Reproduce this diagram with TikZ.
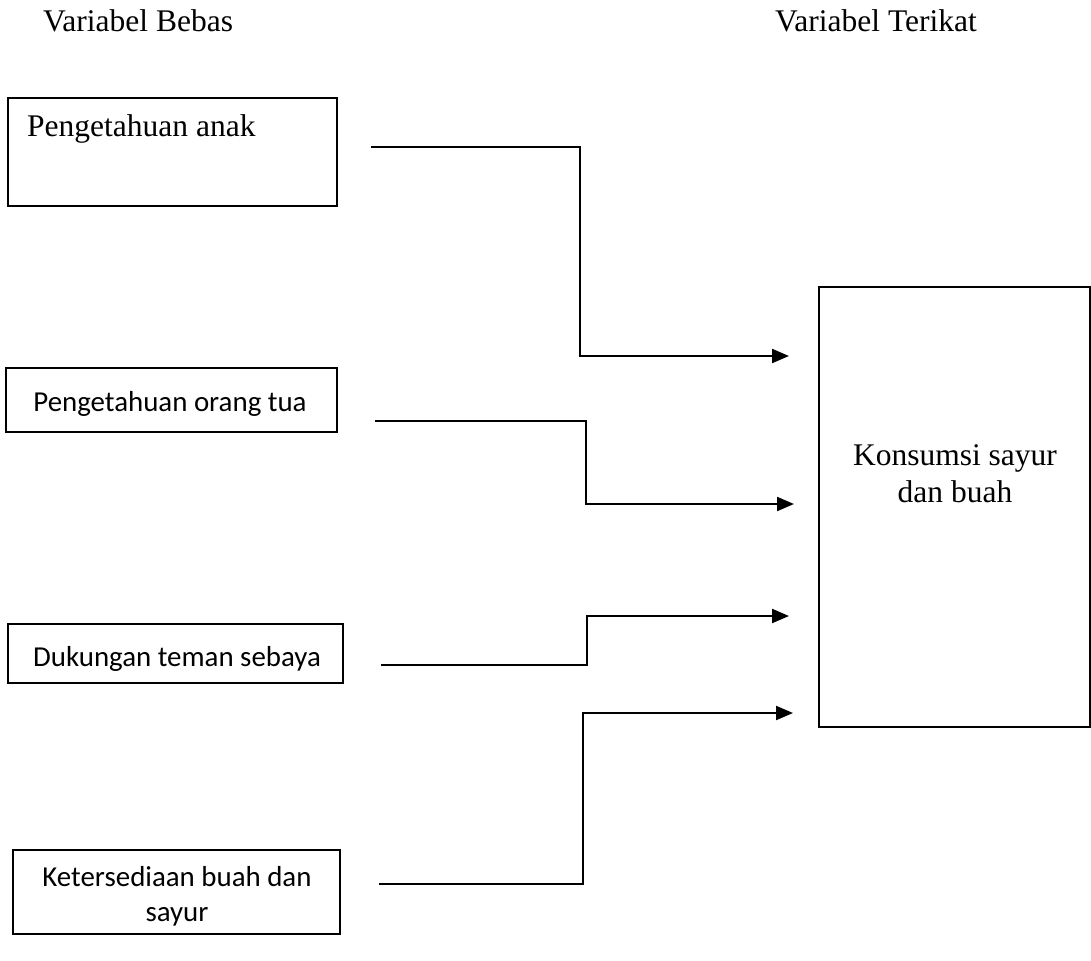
\documentclass[tikz,border=0pt]{standalone}
\usepackage{fontspec}
\setmainfont{Liberation Serif}
\newfontfamily\calibrifont{Carlito}
\usetikzlibrary{arrows.meta}
\tikzset{
  box/.style={draw=black, line width=2.4pt, rectangle, inner sep=0pt, outer sep=0pt, anchor=north west},
  serif/.style={font=\fontsize{31.5}{37}\selectfont, inner sep=0pt},
  sans/.style={font=\fontsize{28.9}{35}\calibrifont, inner sep=0pt},
  conn/.style={line width=2.2pt, -{Triangle[length=17pt,width=14pt]}},
}
\begin{document}
\begin{tikzpicture}[x=1pt,y=-1pt]
\useasboundingbox (0,0) rectangle (1091,960);
% headers
\node[serif, anchor=base west] (hb) at (43,32) {Variabel Bebas};
\node[serif, anchor=base west] (ht) at (775,32) {Variabel Terikat};
% left boxes
\node[box, minimum width=329pt, minimum height=108pt] (b1) at (8,98) {};
\node[serif, anchor=base west] (t1) at (27,137) {Pengetahuan anak};
\node[box, minimum width=331pt, minimum height=64pt] (b2) at (6,368) {};
\node[sans, anchor=base] (t2) at (170,411) {Pengetahuan orang tua};
\node[box, minimum width=335pt, minimum height=59pt] (b3) at (8,624) {};
\node[sans, anchor=base] (t3) at (177,666) {Dukungan teman sebaya};
\node[box, minimum width=327pt, minimum height=84pt] (b4) at (13,850) {};
\node[sans, anchor=base, align=center] (t4) at (177,921) {Ketersediaan buah dan\\sayur};
% right box
\node[box, minimum width=271pt, minimum height=440pt] (r) at (819,287) {};
\node[serif, anchor=base, align=center] (tr) at (955,502) {Konsumsi sayur\\dan buah};
% connector endpoints
\coordinate (s1) at (371,147); \coordinate (e1) at (789,356);
\coordinate (s2) at (375,421); \coordinate (e2) at (794,504);
\coordinate (s3) at (381,665); \coordinate (e3) at (789,616);
\coordinate (s4) at (379,884); \coordinate (e4) at (793,713);
\draw[conn] (s1) -- (580,147) -- (580,356) -- (e1);
\draw[conn] (s2) -- (586,421) -- (586,504) -- (e2);
\draw[conn] (s3) -- (587,665) -- (587,616) -- (e3);
\draw[conn] (s4) -- (583,884) -- (583,713) -- (e4);
\end{tikzpicture}
\end{document}
